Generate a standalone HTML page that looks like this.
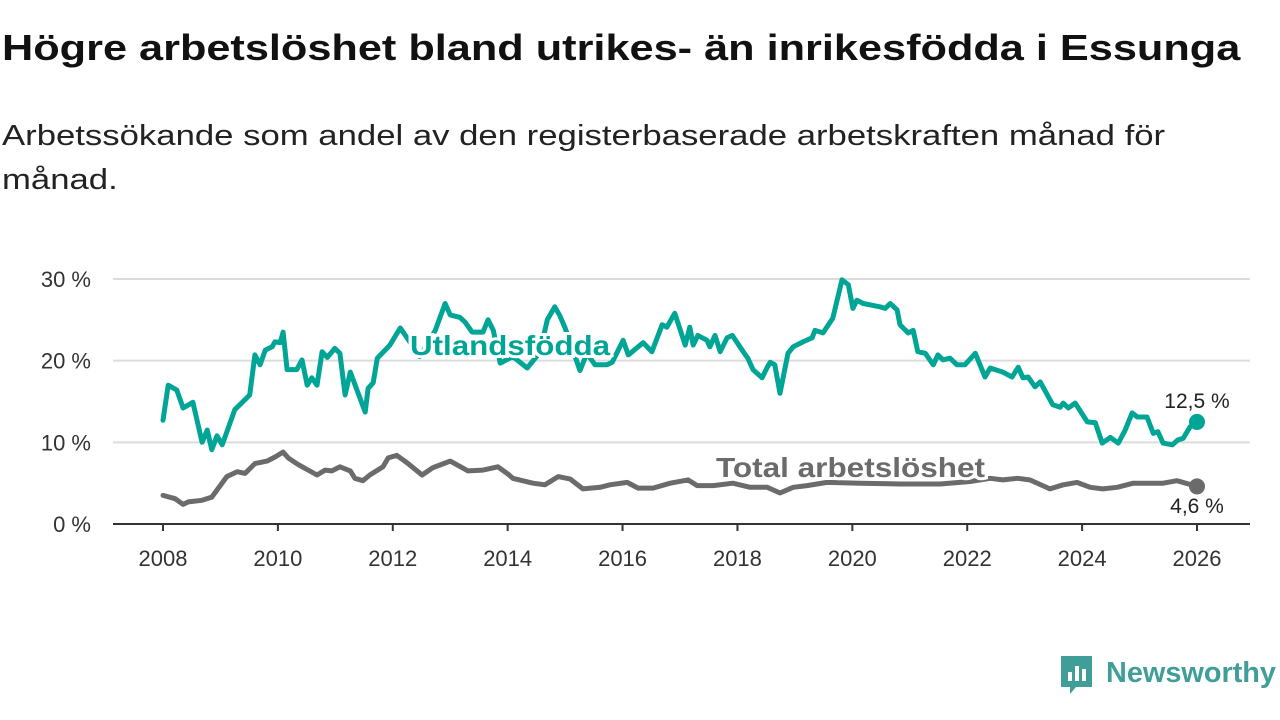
<!DOCTYPE html>
<html><head><meta charset="utf-8">
<style>
body{margin:0;width:1280px;height:720px;background:#fff;overflow:hidden;font-family:"Liberation Sans",sans-serif;}
#title{position:absolute;left:2px;top:27px;font-size:36px;font-weight:bold;color:#111;white-space:nowrap;transform-origin:0 0;}
.sub{position:absolute;left:2px;font-size:29px;color:#222;white-space:nowrap;transform-origin:0 0;}
svg{position:absolute;left:0;top:0;}
</style></head><body>
<div id="title">Högre arbetslöshet bland utrikes- än inrikesfödda i Essunga</div>
<div class="sub" id="sub1" style="top:120px">Arbetssökande som andel av den registerbaserade arbetskraften månad för</div>
<div class="sub" id="sub2" style="top:164px">månad.</div>
<svg id="chart" width="1280" height="720"></svg>
<script>
const xTicks=[2008,2010,2012,2014,2016,2018,2020,2022,2024,2026];
const yTicks=[0,10,20,30];
const utYears=[2008.00,2008.09,2008.24,2008.35,2008.52,2008.68,2008.77,2008.85,2008.94,2009.03,2009.25,2009.51,2009.60,2009.69,2009.78,2009.90,2009.95,2010.04,2010.09,2010.16,2010.33,2010.42,2010.51,2010.59,2010.68,2010.77,2010.86,2010.99,2011.08,2011.17,2011.26,2011.52,2011.57,2011.66,2011.73,2011.95,2012.13,2012.18,2012.47,2012.74,2012.91,2013.00,2013.17,2013.26,2013.38,2013.57,2013.66,2013.75,2013.87,2014.09,2014.34,2014.56,2014.69,2014.82,2014.91,2015.00,2015.26,2015.38,2015.52,2015.73,2015.82,2016.01,2016.10,2016.36,2016.51,2016.69,2016.77,2016.91,2017.09,2017.17,2017.23,2017.31,2017.47,2017.52,2017.61,2017.70,2017.82,2017.91,2018.10,2018.18,2018.27,2018.43,2018.52,2018.57,2018.65,2018.74,2018.88,2018.97,2019.14,2019.30,2019.35,2019.49,2019.66,2019.82,2019.93,2020.01,2020.08,2020.19,2020.48,2020.57,2020.66,2020.78,2020.83,2020.97,2021.06,2021.14,2021.27,2021.41,2021.49,2021.58,2021.70,2021.82,2021.96,2022.14,2022.31,2022.40,2022.62,2022.78,2022.89,2022.97,2023.06,2023.18,2023.27,2023.49,2023.62,2023.67,2023.76,2023.88,2024.09,2024.23,2024.35,2024.49,2024.63,2024.75,2024.87,2024.96,2025.13,2025.24,2025.32,2025.41,2025.57,2025.67,2025.76,2025.88,2026.00];
const utValues=[12.7,17.0,16.4,14.2,14.9,10.0,11.5,9.1,10.8,9.7,14.0,15.8,20.7,19.5,21.3,21.7,22.3,22.2,23.5,18.9,18.9,20.1,17.0,17.9,17.0,21.1,20.4,21.5,20.9,15.8,18.6,13.7,16.6,17.3,20.3,21.9,24.0,23.5,20.5,23.7,27.0,25.6,25.3,24.7,23.5,23.5,25.0,23.7,19.7,20.5,19.1,21.0,25.0,26.6,25.5,24.0,18.8,20.9,19.5,19.5,19.8,22.5,20.7,22.2,21.1,24.4,24.1,25.8,21.9,24.1,21.9,23.1,22.5,21.7,23.1,21.1,22.8,23.1,21.1,20.3,18.9,17.9,19.2,19.8,19.5,16.0,20.9,21.7,22.3,22.8,23.7,23.4,25.2,29.9,29.3,26.4,27.4,27.0,26.6,26.4,27.0,26.2,24.4,23.4,23.7,21.1,20.9,19.5,20.7,20.1,20.3,19.5,19.5,20.9,18.0,19.1,18.6,18.0,19.2,17.9,18.0,16.8,17.4,14.6,14.3,14.8,14.2,14.8,12.5,12.4,9.9,10.6,9.9,11.5,13.6,13.1,13.1,11.1,11.3,9.9,9.7,10.3,10.5,11.9,12.5];
const totYears=[2008.00,2008.21,2008.35,2008.44,2008.68,2008.85,2009.11,2009.29,2009.43,2009.60,2009.81,2009.95,2010.09,2010.18,2010.35,2010.68,2010.82,2010.94,2011.08,2011.26,2011.34,2011.48,2011.60,2011.83,2011.92,2012.07,2012.25,2012.51,2012.70,2013.00,2013.31,2013.57,2013.83,2014.01,2014.09,2014.44,2014.65,2014.88,2015.09,2015.31,2015.61,2015.78,2016.08,2016.27,2016.53,2016.83,2017.14,2017.30,2017.58,2017.92,2018.22,2018.52,2018.74,2018.97,2019.21,2019.56,2020.13,2020.83,2021.53,2022.05,2022.40,2022.62,2022.87,2023.09,2023.44,2023.67,2023.91,2024.14,2024.36,2024.61,2024.89,2025.18,2025.41,2025.65,2026.00];
const totValues=[3.5,3.1,2.4,2.7,2.9,3.3,5.8,6.4,6.2,7.4,7.7,8.2,8.8,8.1,7.3,6.0,6.6,6.5,7.0,6.5,5.6,5.3,6.0,7.0,8.1,8.4,7.5,6.0,6.9,7.7,6.5,6.6,7.0,6.1,5.6,5.0,4.8,5.8,5.5,4.3,4.5,4.8,5.1,4.4,4.4,5.0,5.4,4.7,4.7,5.0,4.5,4.5,3.8,4.5,4.7,5.1,5.0,4.9,4.9,5.2,5.6,5.4,5.6,5.4,4.3,4.8,5.1,4.5,4.3,4.5,5.0,5.0,5.0,5.3,4.6];
const lastLabels=["12,5 %","4,6 %"];

function fit(id,w){const e=document.getElementById(id);const s=w/e.offsetWidth;e.style.transform='scaleX('+s+')';}
fit('title',1238);fit('sub1',1163);
document.getElementById('sub2').style.transform=document.getElementById('sub1').style.transform;

const NS='http://www.w3.org/2000/svg';
const svg=document.getElementById('chart');
const X0=163,X1=1197,Y0=524,Y30=279;
const sx=y=>X0+(y-2008)*(X1-X0)/18;
const sy=v=>Y0+v*(Y30-Y0)/30;
function el(tag,attrs,parent){const e=document.createElementNS(NS,tag);for(const k in attrs)e.setAttribute(k,attrs[k]);(parent||svg).appendChild(e);return e;}
const FONT='"Liberation Sans",sans-serif';
yTicks.forEach(t=>{
  if(t>0){const g=el('line',{x1:113,x2:1250,y1:sy(t),y2:sy(t),stroke:'#dcdcdc','stroke-width':2});
  
  }
  const tx=el('text',{x:91,y:sy(t)+8,'text-anchor':'end','font-size':22,fill:'#333','font-family':FONT});
  tx.textContent=t+' %';
  
  
});
const ax=el('line',{x1:113,x2:1250,y1:Y0,y2:Y0,stroke:'#333','stroke-width':2});


xTicks.forEach(t=>{
  const tk=el('line',{x1:sx(t),x2:sx(t),y1:Y0,y2:Y0+7,stroke:'#333','stroke-width':2});
  
  
  const tx=el('text',{x:sx(t),y:566,'text-anchor':'middle','font-size':22,fill:'#333','font-family':FONT});
  tx.textContent=t;
  
  
});
function line(ys,vs,color,name){
  const d=ys.map((y,i)=>(i?'L':'M')+sx(y).toFixed(1)+','+sy(vs[i]).toFixed(1)).join('');
  const p=el('path',{d:d,fill:'none',stroke:color,'stroke-width':5,'stroke-linejoin':'round','stroke-linecap':'round'});
  
  
  const c=el('circle',{cx:sx(ys[ys.length-1]),cy:sy(vs[vs.length-1]),r:8,fill:color});
  
  
}
line(totYears,totValues,'#6b6b6d','total-line');
line(utYears,utValues,'#00a595','utlandsfodda-line');
function lab(x,y,txt,color,name,size,bold,anchor,len){
  const a={x:x,y:y,'text-anchor':anchor||'start','font-size':size,'font-weight':bold?'bold':'normal',fill:color,stroke:'#fff','stroke-width':bold?6:5,'paint-order':'stroke','font-family':FONT};
  if(len){a.textLength=len;a.lengthAdjust='spacingAndGlyphs';}
  const t=el('text',a);
  t.textContent=txt;
  
  
}
lab(410,355,'Utlandsfödda','#00a595','series-label-utlandsfodda',28,true,'start',200);
lab(716,477,'Total arbetslöshet','#6b6b6d','series-label-total',28,true,'start',269);
lab(1197,408,lastLabels[0],'#222','end-value-utlandsfodda',21,false,'middle');
lab(1197,513,lastLabels[1],'#222','end-value-total',21,false,'middle');
const lg=el('g',{});


el('path',{d:'M1061,656 h31 v31 h-16 l-6,7 v-7 h-9 z',fill:'#3f9e98'},lg);
el('rect',{x:1068,y:672,width:4,height:9,fill:'#fff'},lg);
el('rect',{x:1075,y:666,width:4,height:15,fill:'#fff'},lg);
el('rect',{x:1082,y:669,width:4,height:12,fill:'#fff'},lg);
const lt=el('text',{x:1106,y:682,'font-size':29,'font-weight':'bold',fill:'#3f9e98','font-family':FONT,textLength:170,lengthAdjust:'spacingAndGlyphs'},lg);
lt.textContent='Newsworthy';
</script>
</body></html>
